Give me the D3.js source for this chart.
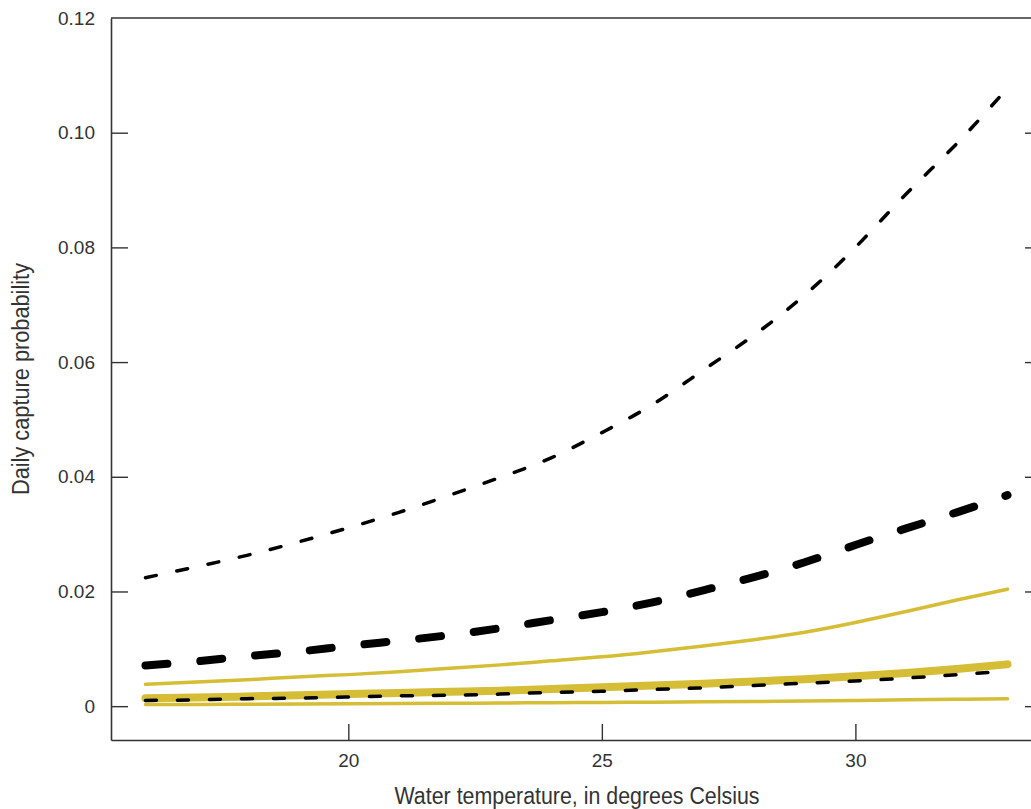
<!DOCTYPE html>
<html>
<head>
<meta charset="utf-8">
<script src="https://cdn.jsdelivr.net/npm/d3@7"></script>
<style>
  body { margin: 0; background: #fff; }
  text { font-family: "Liberation Sans", Arial, sans-serif; fill: #333; }
</style>
</head>
<body>
<div id="chart"></div>
<script>
// water temperature (degrees Celsius)
var temps = [16, 17, 18, 19, 20, 21, 22, 23, 24, 25, 26, 27, 28, 29, 30, 31, 32, 33];

// black series (dashed): upper bound, estimate, lower bound
var blackUpper = [0.0224, 0.0243, 0.0263, 0.0286, 0.0311, 0.0338, 0.0368, 0.0399, 0.0433, 0.0477,
                  0.0526, 0.0586, 0.0647, 0.0717, 0.0800, 0.0893, 0.0981, 0.1078];
var blackMean  = [0.0071, 0.0078, 0.0087, 0.0095, 0.0105, 0.0114, 0.0124, 0.0136, 0.0150, 0.0164,
                  0.0181, 0.0202, 0.0225, 0.0251, 0.0281, 0.0310, 0.0338, 0.0368];
var blackLower = [0.0010, 0.0011, 0.0013, 0.0014, 0.0016, 0.0018, 0.0019, 0.0021, 0.0024, 0.0026,
                  0.0029, 0.0032, 0.0036, 0.0040, 0.0044, 0.0049, 0.0055, 0.0061];

// gold series (solid): upper bound, estimate, lower bound
var goldUpper = [0.0038, 0.0042, 0.0046, 0.0051, 0.0055, 0.0060, 0.0066, 0.0072, 0.0079, 0.0086,
                 0.0095, 0.0105, 0.0116, 0.0129, 0.0146, 0.0165, 0.0185, 0.0204];
var goldMean  = [0.0014, 0.0015, 0.0017, 0.0019, 0.0021, 0.0023, 0.0025, 0.0027, 0.0030, 0.0033,
                 0.0036, 0.0039, 0.0043, 0.0047, 0.0052, 0.0058, 0.0065, 0.0073];
var goldLower = [0.0003, 0.0003, 0.00035, 0.00037, 0.0004, 0.00045, 0.0005, 0.00055, 0.0006, 0.00065,
                 0.0007, 0.00075, 0.0008, 0.0009, 0.0010, 0.0011, 0.0012, 0.0013];

var xTicks = [20, 25, 30];
var yTicks = [0, 0.02, 0.04, 0.06, 0.08, 0.10, 0.12];

var width = 1031, height = 809;
var gold = "#d5bd35";

var svg = d3.select("#chart")
  .append("svg")
    .attr("width", width)
    .attr("height", height);

// scales (plot box runs a little past the right edge of the picture)
var x = d3.scaleLinear()
    .domain([15.32, 33.68])
    .range([111, 1042]);
var y = d3.scaleLinear()
    .domain([-0.0059, 0.12])
    .range([740, 18]);

// lines
var line = d3.line()
    .x(function(d) { return x(d[0]) })
    .y(function(d) { return y(d[1]) })
    .curve(d3.curveNatural);

function pairs(vals) {
  return temps.map(function(t, i) { return [t, vals[i]]; });
}

var series = [
  {vals: goldLower,  color: gold,   w: 3.5, dash: null},
  {vals: goldUpper,  color: gold,   w: 3.5, dash: null},
  {vals: goldMean,   color: gold,   w: 8,   dash: null},
  {vals: blackLower, color: "#000", w: 3.5, dash: "11,21"},
  {vals: blackMean,  color: "#000", w: 8,   dash: "22,33"},
  {vals: blackUpper, color: "#000", w: 3.5, dash: "11,21"}
];

svg.append("g")
  .selectAll("path")
  .data(series)
  .enter()
  .append("path")
    .attr("d", function(d) { return line(pairs(d.vals)) })
    .attr("fill", "none")
    .attr("stroke", function(d) { return d.color })
    .attr("stroke-width", function(d) { return d.w })
    .attr("stroke-linecap", "round")
    .attr("stroke-dasharray", function(d) { return d.dash });

// axes with inward ticks
var axisColor = "#333";

var gx = svg.append("g")
    .attr("transform", "translate(0," + y.range()[0] + ")")
    .call(d3.axisBottom(x).tickValues(xTicks).tickSizeInner(-16).tickSizeOuter(0).tickPadding(14));

var gy = svg.append("g")
    .attr("transform", "translate(" + x.range()[0] + ",0)")
    .call(d3.axisLeft(y).tickValues(yTicks).tickSizeInner(-17).tickSizeOuter(0).tickPadding(16)
      .tickFormat(function(d) { return d === 0 ? "0" : d3.format(".2f")(d); }));

var gr = svg.append("g")
    .attr("transform", "translate(" + x.range()[1] + ",0)")
    .call(d3.axisRight(y).tickValues(yTicks.slice(0, 6)).tickSizeInner(-17).tickSizeOuter(0).tickFormat(""));

// top border
svg.append("line")
    .attr("x1", x.range()[0]).attr("x2", x.range()[1])
    .attr("y1", y.range()[1]).attr("y2", y.range()[1])
    .attr("stroke", axisColor)
    .attr("stroke-width", 1.6);

[gx, gy, gr].forEach(function(g) {
  g.select(".domain").attr("stroke", axisColor).attr("stroke-width", 1.6);
  g.selectAll(".tick line").attr("stroke", axisColor).attr("stroke-width", 1.4);
  g.selectAll(".tick text")
    .style("font-family", "'Liberation Sans', Arial, sans-serif")
    .style("font-size", "19px")
    .style("fill", "#333");
});
gy.select(".tick:last-of-type line").remove();

// axis titles
svg.append("text")
    .attr("x", 577)
    .attr("y", 804)
    .attr("text-anchor", "middle")
    .attr("textLength", 365)
    .attr("lengthAdjust", "spacingAndGlyphs")
    .style("font-size", "23px")
    .text("Water temperature, in degrees Celsius");

svg.append("text")
    .attr("transform", "translate(29,379) rotate(-90)")
    .attr("text-anchor", "middle")
    .attr("textLength", 232)
    .attr("lengthAdjust", "spacingAndGlyphs")
    .style("font-size", "23px")
    .text("Daily capture probability");
</script>
</body>
</html>
